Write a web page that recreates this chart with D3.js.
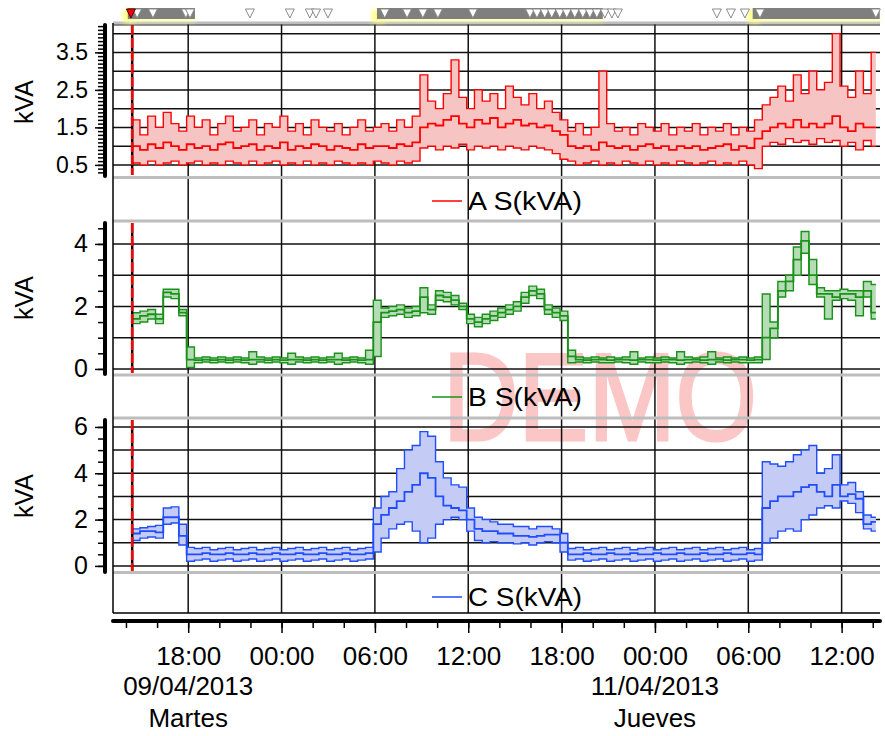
<!DOCTYPE html>
<html><head><meta charset="utf-8">
<script src="https://cdn.jsdelivr.net/npm/d3@7"></script>
<style>
body{margin:0;background:#fff}
svg{display:block}
text{font-family:"Liberation Sans",Arial,sans-serif;fill:#000}
</style>
</head><body>
<svg id="chart" width="885" height="736"></svg>
<script>
// ---------------- DATA ----------------
const domainStart = "2013-04-09T13:10";
const domainEnd   = "2013-04-11T14:28";
const dataStart   = "2013-04-09T14:24";
const dataEnd     = "2013-04-11T14:12";
const binMinutes  = 30;

// Phase A S(kVA)
const aMax = [1.7,1.3,1.8,1.5,1.9,1.6,1.4,1.8, 1.5,1.7,1.3,1.6,1.8,1.4,1.5,1.7,
  1.3,1.6,1.5,1.8,1.4,1.6,1.3,1.7, 1.5,1.4,1.6,1.3,1.5,1.7,1.4,1.5,
  1.6,1.4,1.7,1.5,1.8,2.9,2.2,2.0, 2.4,3.3,2.3,2.0,2.5,2.2,2.4,2.0,
  2.6,2.3,2.1,2.4,2.0,2.2,1.9,1.7, 1.4,1.6,1.3,1.5,3.0,1.6,1.4,1.5,
  1.3,1.6,1.5,1.4,1.6,1.3,1.5,1.4, 1.6,1.3,1.5,1.4,1.6,1.3,1.5,1.4,
  1.7,2.1,2.3,2.6,2.2,2.9,2.4,3.0, 2.5,2.7,4.0,2.6,2.3,3.0,2.4,3.5];
const aAvg = [1.0,0.9,1.05,0.95,1.1,1.0,0.9,1.05, 0.95,1.0,0.9,1.05,1.1,0.95,1.0,1.05,
  0.9,1.0,0.95,1.1,0.9,1.0,0.95,1.05, 1.0,0.9,1.0,0.95,0.9,1.05,0.95,1.0,
  1.0,0.95,1.05,1.0,1.1,1.5,1.6,1.55, 1.7,1.8,1.6,1.5,1.7,1.6,1.75,1.5,
  1.6,1.7,1.55,1.6,1.5,1.55,1.4,1.3, 1.0,0.95,1.0,0.9,1.1,1.0,0.95,1.0,
  0.9,1.0,1.05,0.95,1.0,0.9,1.0,0.95, 1.0,0.9,0.95,1.0,1.05,0.9,1.0,0.95,
  1.2,1.4,1.5,1.6,1.5,1.7,1.5,1.6, 1.5,1.6,1.8,1.5,1.4,1.6,1.5,1.5];
const aMin = [0.55,0.5,0.6,0.5,0.55,0.6,0.5,0.55, 0.6,0.5,0.55,0.5,0.6,0.55,0.5,0.6,
  0.5,0.55,0.6,0.5,0.55,0.5,0.6,0.5, 0.55,0.5,0.6,0.55,0.5,0.55,0.5,0.6,
  0.55,0.5,0.6,0.55,0.6,0.95,1.0,0.9, 1.0,0.95,1.05,0.9,1.0,0.95,1.0,0.9,
  1.0,0.95,0.9,1.0,0.95,0.9,0.8,0.65, 0.6,0.5,0.55,0.6,0.5,0.55,0.5,0.6,
  0.55,0.5,0.6,0.5,0.55,0.5,0.6,0.55, 0.5,0.55,0.6,0.5,0.55,0.5,0.6,0.5,
  0.4,1.0,1.1,1.05,1.2,1.1,1.15,1.05, 1.2,1.1,1.15,1.0,1.1,0.9,1.15,1.0];

// Phase B S(kVA)
const bMax = [1.8,1.85,1.9,1.75,2.55,2.55,1.9,0.7, 0.35,0.38,0.35,0.38,0.35,0.38,0.35,0.55,
  0.38,0.35,0.38,0.35,0.5,0.38,0.35,0.38, 0.35,0.38,0.5,0.35,0.38,0.35,0.6,2.2,
  1.95,2.0,2.05,1.95,2.0,2.6,2.05,2.5, 2.45,2.35,2.1,1.75,1.65,1.75,1.85,1.95,
  2.05,2.15,2.45,2.65,2.55,2.05,1.95,1.85, 0.6,0.38,0.35,0.38,0.35,0.38,0.35,0.38,
  0.55,0.35,0.38,0.35,0.38,0.35,0.55,0.38, 0.35,0.38,0.55,0.35,0.38,0.35,0.38,0.35,
  0.38,2.4,1.5,2.8,3.0,3.9,4.4,3.5, 2.6,2.5,2.5,2.55,2.5,2.5,2.8,2.7];
const bAvg = [1.6,1.7,1.75,1.6,2.45,2.4,1.8,0.3, 0.28,0.3,0.28,0.3,0.28,0.3,0.28,0.3,
  0.3,0.28,0.3,0.28,0.3,0.3,0.28,0.3, 0.28,0.3,0.3,0.28,0.3,0.28,0.3,1.5,
  1.8,1.85,1.9,1.8,1.85,2.3,1.9,2.35, 2.3,2.2,2.0,1.6,1.5,1.6,1.7,1.8,
  1.9,2.0,2.3,2.5,2.4,1.9,1.8,1.7, 0.4,0.3,0.28,0.3,0.3,0.28,0.3,0.3,
  0.28,0.3,0.3,0.28,0.3,0.3,0.28,0.3, 0.3,0.28,0.3,0.3,0.28,0.3,0.3,0.28,
  0.3,1.0,1.3,2.5,2.8,3.5,4.1,3.0, 2.4,2.4,2.3,2.4,2.4,2.3,2.5,1.8];
const bMin = [1.45,1.5,1.6,1.45,2.3,2.25,1.7,0.05, 0.2,0.22,0.2,0.22,0.2,0.22,0.2,0.15,
  0.22,0.2,0.22,0.2,0.15,0.22,0.2,0.22, 0.2,0.22,0.15,0.2,0.22,0.2,0.15,0.4,
  1.65,1.7,1.75,1.65,1.7,1.8,1.75,2.2, 2.15,2.05,1.9,1.45,1.35,1.45,1.55,1.65,
  1.75,1.85,2.1,2.35,2.25,1.75,1.65,1.55, 0.2,0.22,0.2,0.22,0.2,0.2,0.22,0.2,
  0.15,0.22,0.2,0.2,0.22,0.2,0.15,0.2, 0.22,0.2,0.15,0.22,0.2,0.22,0.2,0.2,
  0.2,0.3,1.0,2.3,2.5,3.0,3.7,2.7, 2.3,1.6,2.2,2.25,2.2,1.7,2.3,1.6];

// Phase C S(kVA)
const cMax = [1.6,1.65,1.7,1.75,2.5,2.55,1.8,0.8, 0.75,0.8,0.7,0.75,0.8,0.7,0.75,0.8,
  0.7,0.75,0.8,0.7,0.75,0.8,0.7,0.75, 0.8,0.7,0.75,0.8,0.7,0.75,0.8,2.5,
  3.0,3.2,4.2,5.0,5.2,5.8,5.6,4.5, 3.8,3.5,3.4,2.5,2.1,2.0,1.9,1.8,
  1.8,1.7,1.7,1.6,1.7,1.7,1.6,1.4, 0.75,0.8,0.7,0.75,0.8,0.7,0.75,0.8,
  0.7,0.75,0.8,0.7,0.75,0.8,0.7,0.75, 0.8,0.7,0.75,0.8,0.7,0.75,0.8,0.7,
  0.75,4.5,4.4,4.3,4.5,4.8,5.0,5.2, 4.0,4.2,4.8,3.5,3.6,3.2,2.2,2.1];
const cAvg = [1.4,1.5,1.5,1.45,2.1,2.1,1.3,0.5, 0.5,0.55,0.5,0.5,0.55,0.5,0.5,0.55,
  0.5,0.5,0.55,0.5,0.5,0.55,0.5,0.5, 0.55,0.5,0.5,0.55,0.5,0.5,0.55,1.8,
  2.2,2.5,2.8,3.2,3.5,4.0,3.8,3.0, 2.6,2.5,2.4,2.0,1.6,1.5,1.5,1.4,
  1.4,1.3,1.3,1.25,1.3,1.35,1.35,1.0, 0.5,0.5,0.55,0.5,0.5,0.55,0.5,0.5,
  0.55,0.5,0.5,0.55,0.5,0.5,0.55,0.5, 0.5,0.55,0.5,0.5,0.55,0.5,0.5,0.55,
  0.5,2.5,2.8,3.0,3.0,3.2,3.4,3.5, 3.2,3.0,3.5,3.0,3.1,2.9,1.8,1.9];
const cMin = [1.1,1.2,1.25,1.2,1.8,1.85,0.9,0.2, 0.25,0.3,0.2,0.25,0.3,0.2,0.25,0.3,
  0.2,0.25,0.3,0.2,0.25,0.3,0.2,0.25, 0.3,0.2,0.25,0.3,0.2,0.25,0.3,0.6,
  1.2,1.6,1.8,1.9,1.5,1.0,1.2,1.8, 2.0,2.1,2.0,1.5,1.1,1.0,1.05,1.0,
  1.0,0.95,1.0,0.9,1.0,1.05,1.0,0.6, 0.25,0.3,0.2,0.25,0.3,0.2,0.25,0.3,
  0.2,0.25,0.3,0.2,0.25,0.3,0.2,0.25, 0.3,0.2,0.25,0.3,0.2,0.25,0.3,0.2,
  0.25,1.0,1.2,1.5,1.6,1.5,2.0,2.2, 2.5,2.6,2.5,2.8,2.7,2.3,1.6,1.5];

const legendNames = ["A S(kVA)", "B S(kVA)", "C S(kVA)"];
const yTitle = "kVA";
const aTickLabels = [0.5, 1.5, 2.5, 3.5];
const bTickLabels = [0, 2, 4];
const cTickLabels = [0, 2, 4, 6];
const dateLabels = [["2013-04-09T18:00", "09/04/2013", "Martes"],
                    ["2013-04-11T00:00", "11/04/2013", "Jueves"]];
// event bar (top strip)
const eventBars = [["2013-04-09T14:07","2013-04-09T18:26"],
                   ["2013-04-10T06:08","2013-04-10T20:39"],
                   ["2013-04-11T06:17","2013-04-11T14:27"]];
const eventTimes = ["2013-04-09T14:43","2013-04-09T15:44","2013-04-09T17:51","2013-04-09T18:07",
  "2013-04-09T21:58","2013-04-10T00:32","2013-04-10T01:49","2013-04-10T02:13","2013-04-10T02:59",
  "2013-04-10T06:38","2013-04-10T08:04","2013-04-10T09:05","2013-04-10T10:03","2013-04-10T12:18",
  "2013-04-10T15:58","2013-04-10T16:25","2013-04-10T16:55","2013-04-10T17:22","2013-04-10T17:53",
  "2013-04-10T18:20","2013-04-10T18:51","2013-04-10T19:22","2013-04-10T19:49","2013-04-10T20:16",
  "2013-04-10T20:47","2013-04-10T21:14","2013-04-10T21:37",
  "2013-04-11T03:59","2013-04-11T04:53","2013-04-11T05:47","2013-04-11T06:45","2013-04-11T14:12"];
const alarmTime = "2013-04-09T14:19";
const watermark = "DEMO";

// ---------------- DRAWING ----------------
const parse = d3.timeParse("%Y-%m-%dT%H:%M");
const svg = d3.select("#chart");
const X0 = 113, X1 = 880;
const x = d3.scaleTime().domain([parse(domainStart), parse(domainEnd)]).range([X0, X1]);
const t0 = parse(dataStart), tEnd = parse(dataEnd);

const panels = [
  {max:aMax, avg:aAvg, min:aMin, top:25, bottom:175, dom:[0.23,4.23], grid:d3.range(0.5,4.01,0.5),
   minor:d3.range(0.3,4.21,0.1), labels:aTickLabels, fs:23, color:"#ff0000", fill:"#f7c4c4",
   legendY:201, gTop:23, gBottom:177.5, titleY:102},
  {max:bMax, avg:bAvg, min:bMin, top:223, bottom:373, dom:[-0.13,4.67], grid:d3.range(0,4.01,1),
   minor:d3.range(0,4.51,0.5), labels:bTickLabels, fs:25, color:"#1a921a", fill:"#b6dcb6",
   legendY:397, gTop:221, gBottom:375, titleY:298},
  {max:cMax, avg:cAvg, min:cMin, top:420, bottom:571, dom:[-0.22,6.30], grid:d3.range(0,6.01,1),
   minor:d3.range(0,6.01,0.5), labels:cTickLabels, fs:25, color:"#1f4dff", fill:"#c4ccf6",
   legendY:597, gTop:418, gBottom:572.5, titleY:496}
];

const defs = svg.append("defs");
const blur = defs.append("filter").attr("id","glow").attr("x","-20%").attr("y","-100%").attr("width","140%").attr("height","300%");
blur.append("feGaussianBlur").attr("stdDeviation", 2.5);

// watermark
svg.append("text").attr("x", 443).attr("y", 440)
  .attr("textLength", 314).attr("lengthAdjust", "spacingAndGlyphs")
  .style("font-size", "125px").style("fill", "#fbc6c6")
  .style("stroke", "#fbc6c6").style("stroke-width", 3).text(watermark);

// vertical gridlines (every 6h) through all panels
const majorTicks = x.ticks(d3.timeHour.every(6)).filter(d => x(d) > X0 + 2);
svg.append("g").selectAll("line").data(majorTicks).join("line")
  .attr("x1", d => x(d)).attr("x2", d => x(d)).attr("y1", 24).attr("y2", 613)
  .attr("stroke", "#111").attr("stroke-width", 1.5);

panels.forEach((p, k) => {
  const y = d3.scaleLinear().domain(p.dom).range([p.bottom, p.top]);
  const clipId = "clip" + k;
  defs.append("clipPath").attr("id", clipId).append("rect")
    .attr("x", X0).attr("y", p.top).attr("width", X1 - X0).attr("height", p.bottom - p.top);

  // horizontal gridlines
  svg.append("g").selectAll("line").data(p.grid).join("line")
    .attr("x1", X0).attr("x2", X1).attr("y1", d => y(d)).attr("y2", d => y(d))
    .attr("stroke", "#111").attr("stroke-width", 1.5);

  const rows = p.avg.map((v, i) => ({t: d3.timeMinute.offset(t0, i * binMinutes), min: p.min[i], avg: v, max: p.max[i]}));
  const last = rows[rows.length - 1];
  rows.push({t: tEnd, min: last.min, avg: last.avg, max: last.max});

  const g = svg.append("g").attr("clip-path", `url(#${clipId})`);
  g.append("path").datum(rows)
    .attr("d", d3.area().curve(d3.curveStepAfter).x(d => x(d.t)).y0(d => y(d.min)).y1(d => y(d.max)))
    .attr("fill", p.fill);
  ["min", "max"].forEach(key => {
    g.append("path").datum(rows)
      .attr("d", d3.line().curve(d3.curveStepAfter).x(d => x(d.t)).y(d => y(d[key])))
      .attr("fill", "none").attr("stroke", p.color).attr("stroke-width", 1.4);
  });
  g.append("path").datum(rows)
    .attr("d", d3.line().curve(d3.curveStepAfter).x(d => x(d.t)).y(d => y(d.avg)))
    .attr("fill", "none").attr("stroke", p.color).attr("stroke-width", 1.8);

  // start marker (dashed red/black)
  const xs = x(t0);
  svg.append("line").attr("x1", xs).attr("x2", xs).attr("y1", p.top).attr("y2", p.bottom)
    .attr("stroke", "#000").attr("stroke-width", 2.5);
  svg.append("line").attr("x1", xs).attr("x2", xs).attr("y1", p.top).attr("y2", p.bottom)
    .attr("stroke", "#ff0000").attr("stroke-width", 2.5).attr("stroke-dasharray", "10,3");

  // gray separators
  [p.gTop, p.gBottom].forEach(gy => {
    svg.append("line").attr("x1", X0).attr("x2", X1).attr("y1", gy).attr("y2", gy)
      .attr("stroke", "#bdbdbd").attr("stroke-width", 3);
  });

  // y axis
  const axG = svg.append("g").attr("transform", "translate(105,0)");
  axG.call(d3.axisLeft(y).tickValues(p.minor).tickSize(7).tickFormat(""));
  axG.call(g2 => g2.select(".domain").remove());
  const axL = svg.append("g").attr("transform", "translate(105,0)");
  axL.call(d3.axisLeft(y).tickValues(p.labels).tickSize(10).tickPadding(7).tickFormat(d3.format("")));
  axL.select(".domain").remove();
  axL.selectAll("text").style("font-size", p.fs + "px").attr("font-family", null);
  svg.selectAll(".tick line").attr("stroke", "#000").attr("stroke-width", 1.5);
  svg.append("line").attr("x1", 105).attr("x2", 105).attr("y1", p.top).attr("y2", p.bottom + 1)
    .attr("stroke", "#000").attr("stroke-width", 4).attr("stroke-linecap", "round");

  svg.append("text").attr("transform", `translate(33,${p.titleY}) rotate(-90)`)
    .attr("text-anchor", "middle").style("font-size", "25px").text(yTitle);

  // legend
  svg.append("line").attr("x1", 432).attr("x2", 462).attr("y1", p.legendY).attr("y2", p.legendY)
    .attr("stroke", p.color).attr("stroke-width", 1.5);
  svg.append("text").attr("x", 468).attr("y", p.legendY + 9).style("font-size", "25px")
    .attr("textLength", 114).attr("lengthAdjust", "spacingAndGlyphs").text(legendNames[k]);
});

// frame
svg.append("line").attr("x1", X0).attr("x2", X0).attr("y1", 23).attr("y2", 613).attr("stroke", "#000").attr("stroke-width", 1.5);
svg.append("line").attr("x1", X0).attr("x2", X1).attr("y1", 613).attr("y2", 613).attr("stroke", "#000").attr("stroke-width", 1.5);
svg.append("line").attr("x1", X0).attr("x2", X1).attr("y1", 25).attr("y2", 25).attr("stroke", "#222").attr("stroke-width", 1);

// bottom axis
const xMinorAx = svg.append("g").attr("transform", "translate(0,621)")
  .call(d3.axisBottom(x).ticks(d3.timeHour.every(2)).tickSize(7).tickFormat(""));
xMinorAx.select(".domain").remove();
const xMajorAx = svg.append("g").attr("transform", "translate(0,621)")
  .call(d3.axisBottom(x).ticks(d3.timeHour.every(6)).tickSize(12).tickFormat(d3.timeFormat("%H:%M")));
xMajorAx.select(".domain").remove();
xMajorAx.selectAll("text").attr("y", 44).attr("dy", null).style("font-size", "26px").attr("font-family", null);
svg.selectAll(".tick line").attr("stroke", "#000").attr("stroke-width", 1.5);
svg.append("line").attr("x1", X0).attr("x2", X1).attr("y1", 621).attr("y2", 621)
  .attr("stroke", "#000").attr("stroke-width", 4).attr("stroke-linecap", "round");

svg.append("g").selectAll("text").data(dateLabels).join("text")
  .attr("x", d => x(parse(d[0]))).attr("y", 695).attr("text-anchor", "middle")
  .style("font-size", "26px").text(d => d[1]);
svg.append("g").selectAll("text").data(dateLabels).join("text")
  .attr("x", d => x(parse(d[0]))).attr("y", 727).attr("text-anchor", "middle")
  .style("font-size", "26px").text(d => d[2]);

// top event strip
const strip = svg.append("g");
eventBars.forEach(b => {
  const a = Math.max(X0 + 14, x(parse(b[0]))), e = Math.min(X1, x(parse(b[1])));
  strip.append("rect").attr("x", a - 5).attr("y", 10).attr("width", 12).attr("height", 12)
    .attr("fill", "#ffff80").attr("filter", "url(#glow)");
  strip.append("rect").attr("x", a).attr("y", 17).attr("width", e - a).attr("height", 4)
    .attr("fill", "#ffff90").attr("filter", "url(#glow)");
  strip.append("rect").attr("x", a).attr("y", 8).attr("width", e - a).attr("height", 11).attr("fill", "#7f7f7f");
});
const tri = cx => `M${cx - 4.5},9 L${cx + 4.5},9 L${cx},18 Z`;
strip.selectAll("path.ev").data(eventTimes).join("path").attr("class", "ev")
  .attr("d", d => tri(x(parse(d)))).attr("fill", "#fff").attr("stroke", "#8a8a8a").attr("stroke-width", 1);
strip.append("path").attr("d", tri(x(parse(alarmTime)))).attr("fill", "#ff0000").attr("stroke", "#500").attr("stroke-width", 1);
</script>
</body></html>
